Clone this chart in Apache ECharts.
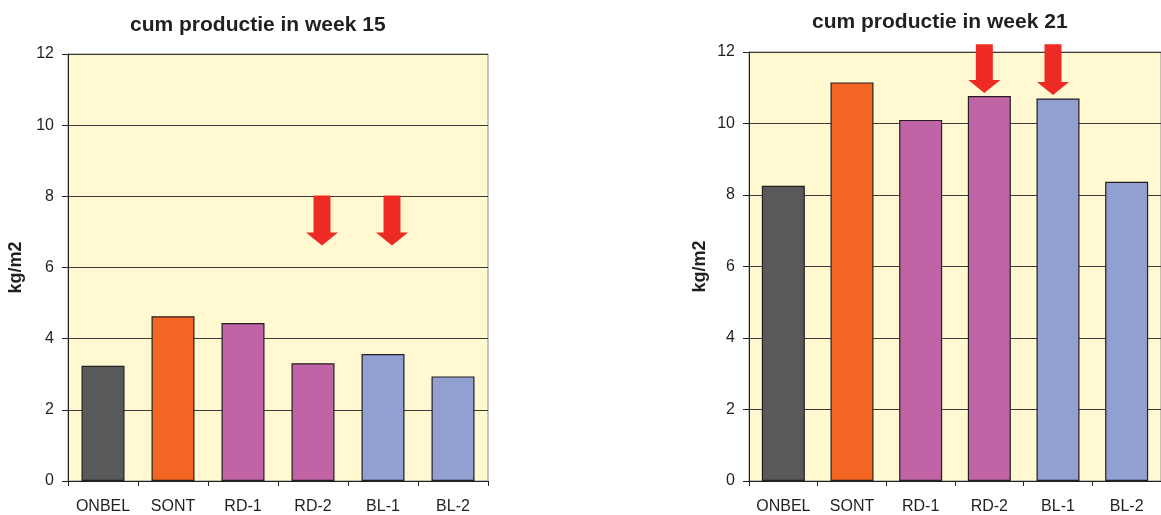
<!DOCTYPE html>
<html><head><meta charset="utf-8">
<script src="https://cdn.jsdelivr.net/npm/echarts@6/dist/echarts.min.js"></script>
<style>html,body{margin:0;padding:0;background:#fff}#c{width:1161px;height:515px}</style>
</head><body><div id="c"></div>
<script>
const categories = ['ONBEL','SONT','RD-1','RD-2','BL-1','BL-2'];
const week15Values = [3.24, 4.63, 4.44, 3.31, 3.57, 2.94];
const week21Values = [8.26, 11.15, 10.10, 10.77, 10.70, 8.37];
const barColors = ['#58595B','#F26522','#C064A5','#C064A5','#929FD1','#929FD1'];
const yTicks = [0, 2, 4, 6, 8, 10, 12];
const arrowCats15 = ['RD-2','BL-1'];
const arrowTop15 = [8.02, 8.02];
const arrowTip15 = [6.62, 6.62];
const arrowCats21 = ['RD-2','BL-1'];
const arrowTop21 = [12.22, 12.22];
const arrowTip21 = [10.85, 10.80];

const chart = echarts.init(document.getElementById('c'));
const FONT = 'Liberation Sans, Arial, sans-serif';

function arrowSeries(gi, cats, tops, tips, dx) {
  return {
    type: 'custom', xAxisIndex: gi, yAxisIndex: gi, clip: false, z: 10,
    data: cats.map((c, i) => [c, tops[i], tips[i]]),
    renderItem: function (params, api) {
      const top = api.coord([api.value(0), api.value(1)]);
      const tip = api.coord([api.value(0), api.value(2)]);
      const cx = top[0] + dx;
      const sw = 8.5, hw = 16, hh = 13;
      const hy = tip[1] - hh;
      return {
        type: 'polygon',
        shape: { points: [[cx - sw, top[1]], [cx + sw, top[1]], [cx + sw, hy], [cx + hw, hy], [cx, tip[1]], [cx - hw, hy], [cx - sw, hy]] },
        style: { fill: '#EE2A24' }
      };
    }
  };
}

function xAxis(gi) {
  return {
    type: 'category', gridIndex: gi, data: categories,
    axisLine: { lineStyle: { color: '#231F20', width: 1 } },
    axisTick: { show: true, length: 5, lineStyle: { color: '#231F20' } },
    axisLabel: { color: '#231F20', fontSize: 16, fontFamily: FONT, margin: 18, interval: 0 },
    splitLine: { show: false }
  };
}
function yAxis(gi, gap) {
  return {
    type: 'value', gridIndex: gi, min: yTicks[0], max: yTicks[yTicks.length - 1], interval: 2,
    name: 'kg/m2', nameLocation: 'middle', nameGap: gap, nameRotate: 90,
    nameTextStyle: { fontSize: 18, fontWeight: 'bold', color: '#231F20', fontFamily: FONT },
    axisLine: { show: true, lineStyle: { color: '#231F20', width: 1 } },
    axisTick: { show: true, length: 6, lineStyle: { color: '#231F20' } },
    axisLabel: { color: '#231F20', fontSize: 16, fontFamily: FONT, margin: 14 },
    splitLine: { show: true, lineStyle: { color: '#3a3a3a', width: 1 } }
  };
}
function barSeries(gi, vals) {
  return {
    type: 'bar', xAxisIndex: gi, yAxisIndex: gi, barWidth: 43,
    data: vals.map((v, i) => ({ value: v, itemStyle: { color: barColors[i] } })),
    itemStyle: { borderColor: '#231F20', borderWidth: 1.2 }
  };
}

chart.setOption({
  animation: false,
  title: [
    { text: 'cum productie in week 15', left: 125, top: 10, textStyle: { fontSize: 21, fontWeight: 'bold', color: '#231F20', fontFamily: FONT } },
    { text: 'cum productie in week 21', left: 807, top: 7, textStyle: { fontSize: 21, fontWeight: 'bold', color: '#231F20', fontFamily: FONT } }
  ],
  grid: [
    { left: 68, top: 54, width: 420, bottom: 33.5, show: true, backgroundColor: '#FFF8D0', borderColor: '#8C8C8C', borderWidth: 1 },
    { left: 749, top: 52, width: 420, bottom: 33.5, show: true, backgroundColor: '#FFF8D0', borderColor: '#8C8C8C', borderWidth: 1 }
  ],
  xAxis: [xAxis(0), xAxis(1)],
  yAxis: [yAxis(0, 43), yAxis(1, 40)],
  series: [
    barSeries(0, week15Values),
    barSeries(1, week21Values),
    arrowSeries(0, arrowCats15, arrowTop15, arrowTip15, 9),
    arrowSeries(1, arrowCats21, arrowTop21, arrowTip21, -5)
  ]
});
</script></body></html>
